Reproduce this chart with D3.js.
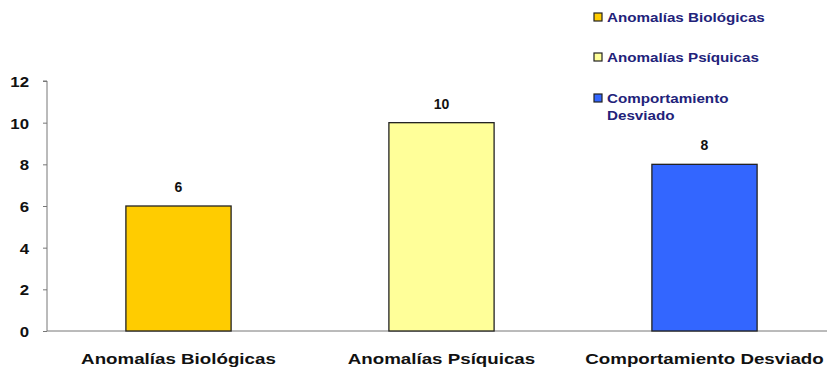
<!DOCTYPE html>
<html>
<head>
<meta charset="utf-8">
<script src="https://cdn.jsdelivr.net/npm/d3@7"></script>
<style>
  html, body { margin: 0; padding: 0; background: #ffffff; }
  svg { display: block; }
  text { font-family: "Liberation Sans", Arial, sans-serif; }
</style>
</head>
<body>
<svg id="chart" width="827" height="370"></svg>
<script>
const categories = ["Anomalías Biológicas", "Anomalías Psíquicas", "Comportamiento Desviado"];
const values = [6, 10, 8];
const colors = ["#FFCC00", "#FFFF99", "#3366FF"];
const yTicks = [0, 2, 4, 6, 8, 10, 12];
const legendLabels = [["Anomalías Biológicas"], ["Anomalías Psíquicas"], ["Comportamiento", "Desviado"]];

const svg = d3.select("#chart");
const margin = { left: 47, top: 81, bottom: 39 };
const plotBottom = 370 - margin.bottom;

// widen text horizontally about its own x anchor
function stretch(sel, k) {
  sel.each(function () {
    const t = d3.select(this);
    const x0 = +t.attr("x") || 0;
    t.attr("x", x0 / k).attr("transform", `scale(${k},1)`);
    t.selectAll("tspan").each(function () {
      const s = d3.select(this);
      if (s.attr("x") !== null) s.attr("x", +s.attr("x") / k);
    });
  });
}

const x = d3.scaleBand()
  .domain(categories)
  .range([margin.left, margin.left + 3 * 263])
  .paddingInner(0.6)
  .paddingOuter(0.3);

const y = d3.scaleLinear()
  .domain([0, 12])
  .range([plotBottom, margin.top]);

// y axis
const yAxis = svg.append("g")
  .attr("transform", `translate(${margin.left},0)`)
  .call(d3.axisLeft(y).tickValues(yTicks).tickSize(4).tickPadding(14));
yAxis.select(".domain").attr("stroke", "#777").attr("d", `M-4,${y(12)}H0V${y(0)}`);
yAxis.selectAll(".tick line").attr("stroke", "#777");
const tickText = yAxis.selectAll(".tick text")
  .attr("fill", "#111")
  .attr("dy", "0.36em")
  .style("font-size", "15px")
  .style("font-weight", "bold");
stretch(tickText, 1.12);

// x axis baseline
svg.append("line")
  .attr("x1", margin.left).attr("x2", 827)
  .attr("y1", y(0)).attr("y2", y(0))
  .attr("stroke", "#777");

// bars
svg.selectAll("rect.bar")
  .data(categories)
  .enter().append("rect")
  .attr("class", "bar")
  .attr("x", d => x(d))
  .attr("width", x.bandwidth())
  .attr("y", (d, i) => y(values[i]))
  .attr("height", (d, i) => y(0) - y(values[i]))
  .attr("fill", (d, i) => colors[i])
  .attr("stroke", "#222")
  .attr("stroke-width", 1.3);

// value labels
svg.selectAll("text.val")
  .data(categories)
  .enter().append("text")
  .attr("class", "val")
  .attr("x", d => x(d) + x.bandwidth() / 2)
  .attr("y", (d, i) => y(values[i]) - 14)
  .attr("text-anchor", "middle")
  .attr("fill", "#111")
  .style("font-size", "14px")
  .style("font-weight", "bold")
  .text((d, i) => values[i]);

// category labels
const catText = svg.selectAll("text.cat")
  .data(categories)
  .enter().append("text")
  .attr("class", "cat")
  .attr("x", d => x(d) + x.bandwidth() / 2)
  .attr("y", 364)
  .attr("text-anchor", "middle")
  .attr("fill", "#111")
  .style("font-size", "15px")
  .style("font-weight", "bold")
  .text(d => d);
stretch(catText, 1.25);

// legend
const legendY = [17, 57, 98];
const legend = svg.append("g");
legendLabels.forEach((lines, i) => {
  legend.append("rect")
    .attr("x", 594).attr("y", legendY[i] - 4)
    .attr("width", 8).attr("height", 8)
    .attr("fill", colors[i])
    .attr("stroke", "#222").attr("stroke-width", 1.2);
  const t = legend.append("text")
    .attr("x", 607).attr("y", legendY[i] + 5)
    .attr("fill", "#22227a")
    .style("font-size", "13px")
    .style("font-weight", "bold");
  lines.forEach((line, j) => {
    t.append("tspan").attr("x", 607).attr("dy", j === 0 ? 0 : 17).text(line);
  });
  stretch(t, 1.17);
});
</script>
</body>
</html>
